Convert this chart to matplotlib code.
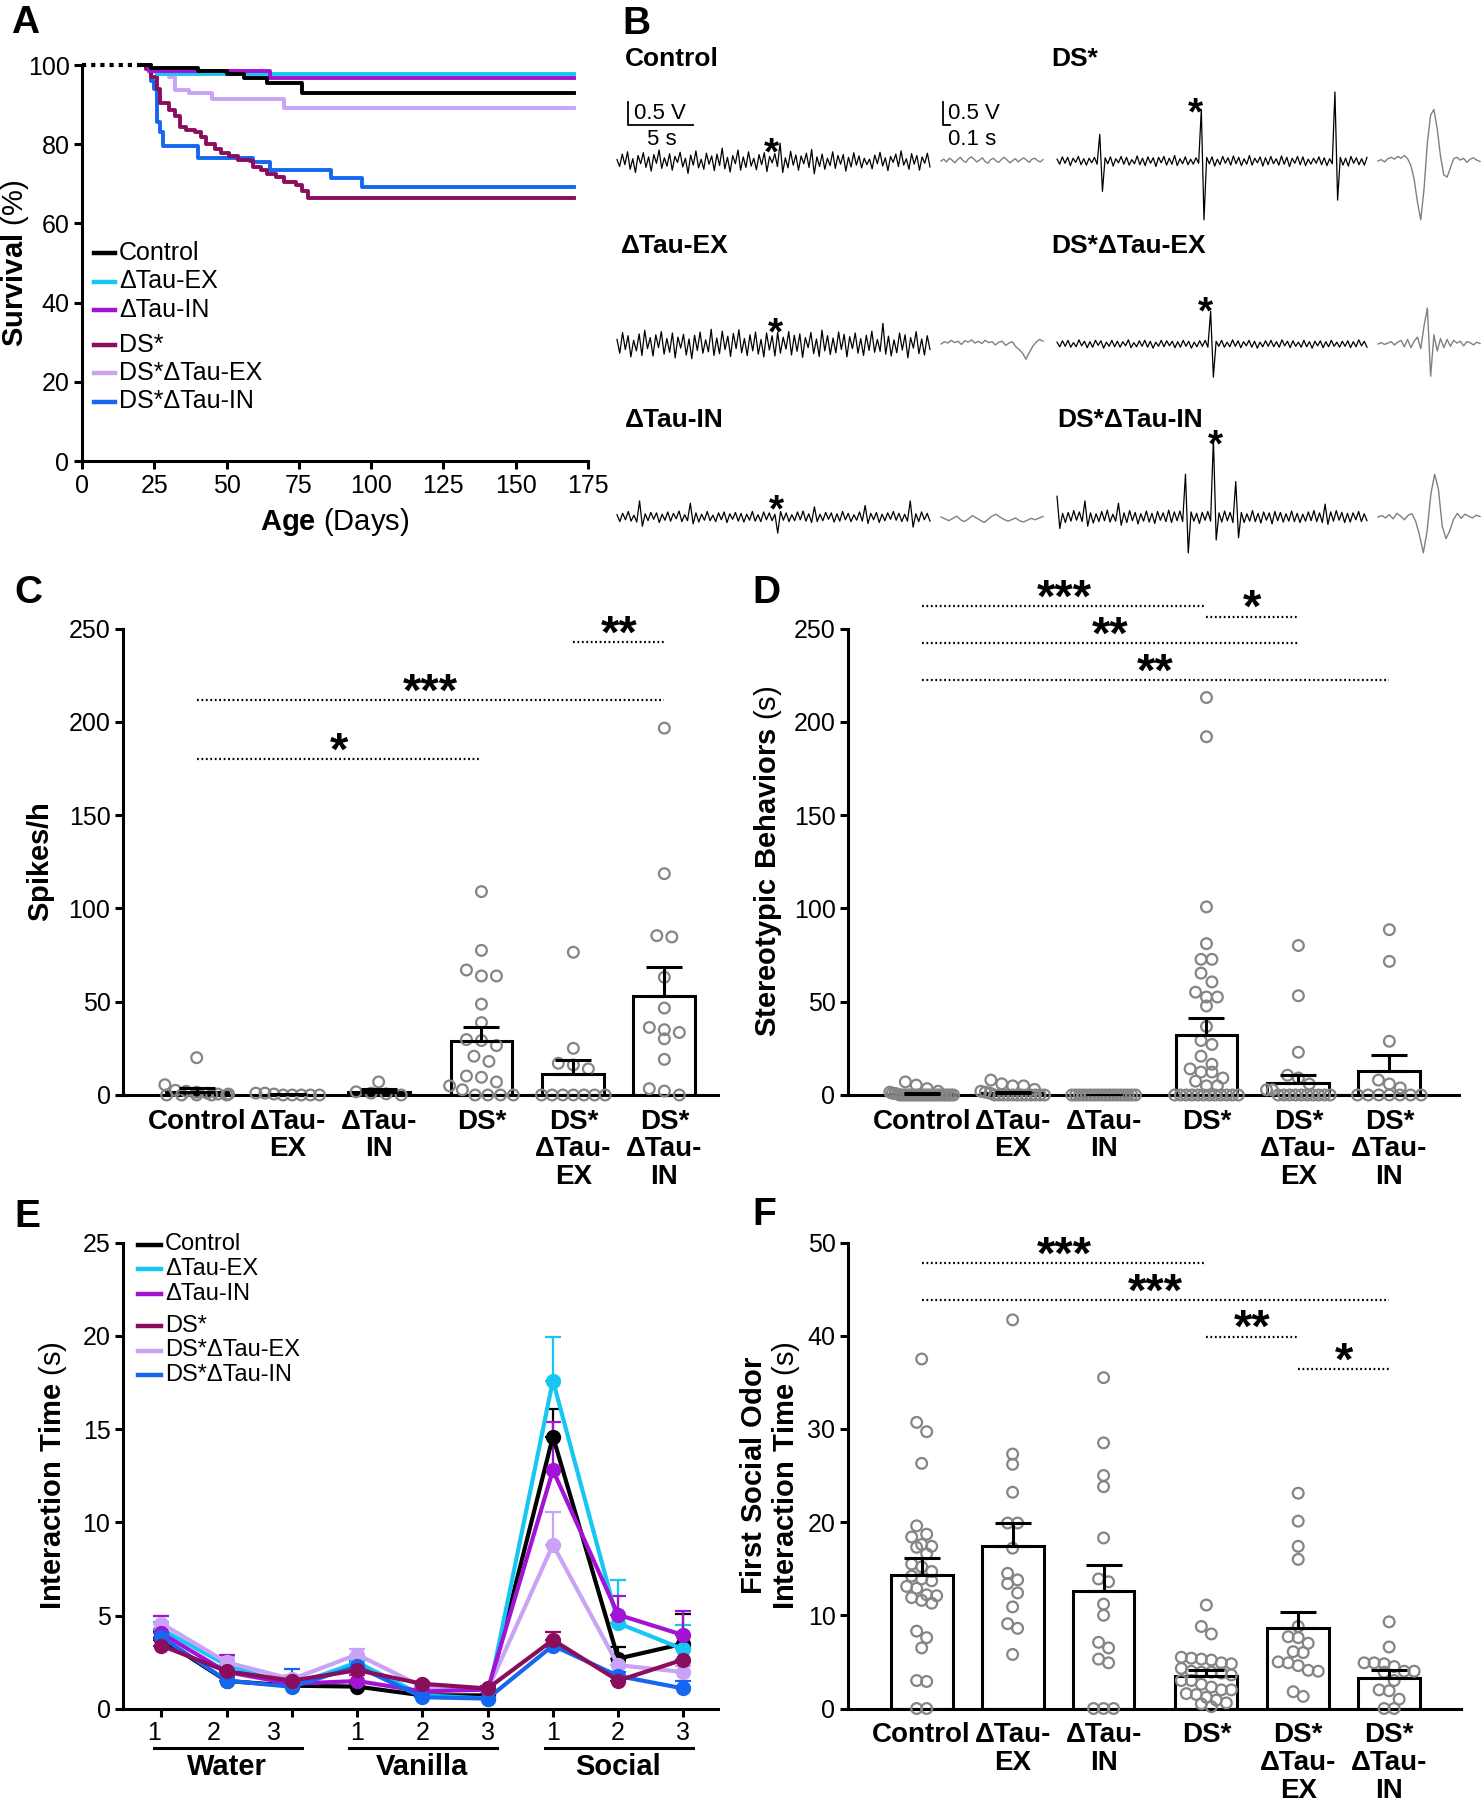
import matplotlib
matplotlib.use('Agg')
import matplotlib.pyplot as plt
from matplotlib import font_manager
from matplotlib.lines import Line2D
from matplotlib.transforms import ScaledTranslation
import numpy as np

W, H = 1484, 1800

groups = ['Control', 'ΔTau-EX', 'ΔTau-IN', 'DS*', 'DS*ΔTau-EX', 'DS*ΔTau-IN']
colors = ['#000000', '#18C6F4', '#A313D4', '#8B0D5D', '#C9A3F6', '#1467EE']
cat_labels = ['Control', 'ΔTau-\nEX', 'ΔTau-\nIN', 'DS*', 'DS*\nΔTau-\nEX', 'DS*\nΔTau-\nIN']
bar_pos = [0, 1, 2, 3.13, 4.14, 5.14]

# ---- A: survival steps (day, % alive) ----
wean_day = 21
surv_end = 170
days_ctrl = [21, 24, 40, 50, 56, 64, 76]
pct_ctrl = [100, 99.3, 98.6, 97.8, 96.7, 95.4, 93.0]
days_tex = [21, 23, 26]
pct_tex = [100, 98.8, 97.8]
days_tin = [21, 23, 65]
pct_tin = [100, 98.6, 96.7]
days_ds = [21, 22, 24, 26, 27, 30, 32, 34, 36, 39, 41, 43, 46, 48, 51, 54, 58, 59, 62, 64, 67, 70, 74, 76, 78]
pct_ds = [100, 98.9, 97.0, 93.9, 90.4, 88.7, 87.0, 84.3, 83.7, 83.0, 81.7, 80.0, 78.7, 77.8, 77.0,
          76.0, 75.7, 74.3, 73.5, 72.6, 71.7, 70.4, 69.6, 68.3, 66.5]
days_dtex = [21, 23, 30, 32, 37, 45, 70]
pct_dtex = [100, 98.3, 97.0, 93.7, 92.9, 91.3, 89.1]
days_dtin = [21, 24, 25, 26, 27, 28, 40, 59, 65, 86, 97]
pct_dtin = [100, 96.0, 93.9, 85.7, 83.0, 79.6, 76.5, 75.4, 73.5, 71.5, 69.1]

# ---- B: EEG traces (hundredths of a volt) ----
tr_ctrl = [3, -12, 15, -8, 20, -18, 5, -25, 12, -6, 18, -14, 9, -22, 14, -5, 24, -16, 7, -11, 16, -20, 10, -3,
           19, -13, 6, -27, 13, -9, 22, -15, 4, -18, 17, -7, 11, -21, 15, -10, 28, -17, 8, -24, 12, -6, 24, -20,
           9, -14, 20, -11, 6, -19, 14, -8, 18, -23, 10, -4, 16, -12, 39, -25, 7, -15, 21, -9, 13, -20, 11, -6,
           17, -14, 25, -28, 9, -12, 15, -18, 6, -10, 20, -16, 12, -7, 14, -22, 8, -13, 18, -9, 11, -15, 6, -8,
           4, -17, 13, -6, 19, -11, 7, -21, 10, -3, 15, -12, 22, -9, 5, -18, 16, -7, 12, -20, 9, -5, 17, -13]
tr_ds = [4, -7, 9, -5, 8, -10, 6, -3, 10, -8, 5, -9, 6, -4, 8, -7, 58, -66, 7, -6, 9, -11, 5, -4, 10, -7, 8, -9,
         3, -6, 11, -8, 6, -10, 9, -5, 7, -12, 8, -4, 10, -9, 6, -7, 12, -10, 5, -6, 9, -8, 4, -7, 7, -5,
         112, -128, 8, -6, 9, -11, 4, -8, 10, -5, 7, -9, 11, -6, 8, -10, 5, -7, 12, -9, 6, -4, 9, -11, 7, -8,
         10, -6, 5, -9, 11, -7, 8, -12, 6, -5, 10, -8, 9, -10, 4, -7, 6, -5, 9, -8, 7, -10, 5, -6,
         150, -85, 8, -9, 6, -11, 10, -5, 7, -8, 5, -9, 8]
tr_tex = [10, -20, 25, -12, 18, -28, 8, -15, 22, -25, 30, -10, 14, -26, 20, -8, 27, -22, 12, -18, 24, -30, 15,
          -9, 21, -24, 11, -32, 19, -14, 26, -20, 9, -17, 32, -25, 13, -21, 28, -12, 17, -27, 23, -10, 31, -19,
          12, -25, 20, -15, 26, -22, 10, -28, 24, -13, 18, -26, 25, -20, 15, -11, 27, -24, 19, -16, 22, -29, 14,
          -8, 25, -21, 11, -27, 30, -15, 18, -23, 13, -19, 26, -12, 21, -28, 16, -10, 24, -20, 12, -25, 19, -14,
          28, -18, 10, -16, 45, -22, 17, -26, 9, -19, 24, -13, 20, -30, 14, -9, 27, -21, 11, -24, 18, -12]
tr_tin = [5, -10, 8, -6, 12, -9, 4, -11, 35, -20, 7, -8, 10, -5, 9, -12, 6, -7, 11, -9, 8, -4, 13, -10, 5, -8,
          30, -15, 9, -11, 6, -7, 12, -8, 4, -10, 9, -6, 11, -12, 7, -5, 10, -9, 8, -11, 6, -7, 12, -9, 5, -10,
          11, -6, 9, -8, 6, -35, 12, -7, 9, -10, 5, -8, 11, -6, 13, -9, 7, -12, 22, -10, 6, -8, 10, -5, 9, -11,
          7, -9, 12, -6, 8, -10, 5, -7, 11, -9, 25, -14, 8, -6, 10, -12, 6, -8, 9, -5, 12, -7, 8, -10, 6, -9,
          35, -22, 7, -10, 11, -6, 8, -9]
tr_dtex = [4, -6, 7, -5, 8, -7, 3, -6, 9, -4, 6, -8, 5, -7, 8, -3, 7, -9, 4, -5, 8, -6, 6, -7, 5, -4, 9, -8, 3,
           -6, 7, -5, 8, -7, 6, -9, 4, -5, 8, -6, 7, -4, 6, -8, 5, -7, 8, -5, 6, -9, 4, -6, 7, -5, 8, -7, 71,
           -72, 6, -5, 8, -7, 4, -6, 9, -5, 7, -8, 5, -4, 8, -7, 6, -9, 4, -6, 7, -5, 8, -6, 5, -7, 9, -4, 6,
           -8, 7, -5, 4, -7, 8, -6, 5, -9, 6, -4, 7, -8, 5, -6, 8, -5, 4, -7, 6, -5, 7, -8, 5, -6, 9, -4, 6, -7]
tr_dtin = [45, -25, 8, -12, 10, -9, 14, -7, 11, -10, 35, -20, 9, -13, 7, -10, 12, -8, 15, -11, 6, -9, 30, -18,
           9, -12, 14, -8, 10, -15, 7, -9, 13, -11, 8, -14, 12, -7, 9, -10, 15, -12, 11, -8, 13, -10, 93, -78,
           11, -9, 8, -14, 10, -7, 12, -9, 170, -50, 9, -11, 13, -8, 10, -12, 77, -45, 10, -12, 7, -9, 14, -10,
           8, -13, 11, -7, 9, -15, 12, -8, 10, -11, 7, -9, 13, -10, 8, -12, 6, -9, 11, -8, 14, -10, 9, -12,
           28, -16, 11, -9, 14, -7, 10, -12, 8, -11, 9, -6, 12, -10, 7, -8]
in_ctrl = [0, 4, -2, 6, 2, -4, 3, 8, 1, -3, 5, 9, 4, -2, 2, 7, -1, -5, 3, 6, 0, -3, 4, 8, 2, -4, 1, 5, -2, 3, 7,
           2, -3, 4, 6, 1, -2, 3]
in_ds = [0, 3, -2, 5, 8, 4, 10, 6, 12, 5, -10, -40, -90, -128, -60, 40, 100, 112, 70, 10, -30, -35, -15, 5, 8,
         2, 6, -3, 4, 7, 2, -1]
in_tex = [0, 5, 2, 8, 3, 6, -1, 7, 4, 9, 2, 6, 1, 8, 3, 5, -2, 4, 6, -3, 2, 5, -6, -12, -20, -33, -18, -5, 4,
          10, 6]
in_dtex = [0, 3, -1, 2, 5, -2, 4, 8, -6, 10, -8, 6, 15, -10, 40, 78, -70, 20, -15, 12, -8, 10, -5, 8, 2, 6, -4,
           5, 3, -2, 4, 1]
in_tin = [0, -4, -8, -3, 2, -6, -10, -4, 3, -2, -7, -12, -5, 2, 6, 0, -5, -9, -6, -2, -8, -11, -7, -3, -6, -2, 1]
in_dtin = [0, 3, -2, 5, -4, 8, 2, -6, 4, 7, -10, -40, -78, -30, 50, 93, 60, -20, -47, -30, -5, 8, -3, 6, 2, -2,
           4, 1]

# ---- C: spikes/h ----
c_ctrl = [20, 5.5, 2.5, 2, 1.5, 1, 0.5, 0.5, 0, 0, 0, 0, 0]
c_tex = [1, 0.5, 0, 1, 0, 0, 0, 0]
c_tin = [0.6, 1.7, 7, 0, 1]
c_ds = [109, 77.5, 67, 63.8, 63.8, 48.7, 38.8, 29.7, 29.2, 26.5, 20.8, 18, 10.2, 9.5, 7, 4.9, 2.8, 0, 0, 0, 0]
c_dtex = [76.5, 25, 17, 16.1, 14, 0, 0, 0, 0, 0, 0, 0]
c_dtin = [196.6, 118.6, 85.4, 84.7, 63.1, 46.6, 36.2, 35, 33.5, 30.1, 19.1, 3.4, 2.1, 0]
c_mean = [1.7, 0.2, 1.5, 28.8, 11.2, 53.0]
c_sem = [2.1, 0.2, 1.7, 7.9, 7.4, 15.4]

# ---- D: stereotypic behaviours (s) ----
d_ctrl = [7, 5.3, 3.4, 2, 1.5, 1, 0.8, 0.5, 0, 0, 0, 0, 0, 0, 0, 0, 0, 0, 0, 0, 0, 0, 0, 0, 0, 0, 0, 0, 0, 0]
d_tex = [8, 6, 4.9, 4.9, 3, 2, 1.5, 1, 0, 0, 0, 0, 0, 0, 0, 0, 0, 0, 0, 0]
d_tin = [0, 0, 0, 0, 0, 0, 0, 0, 0, 0, 0, 0, 0, 0, 0, 0, 0, 0]
d_ds = [213, 192, 100.8, 81.1, 72.7, 72.7, 65.3, 60.6, 55.1, 52.5, 52.5, 47.7, 36.7, 29.2, 27.1, 20.8, 16.5,
        14, 12.3, 12.3, 9.1, 7.4, 4.9, 4.9, 0, 0, 0, 0, 0, 0, 0, 0, 0, 0, 0, 0]
d_dtex = [80.1, 53.2, 22.9, 10.6, 9.1, 5.9, 2.8, 2.8, 0, 0, 0, 0, 0, 0, 0, 0, 0, 0]
d_dtin = [88.6, 71.6, 28.8, 8, 5.9, 3.8, 0, 0, 0, 0, 0, 0, 0]
d_mean = [0.7, 1.3, 0, 32.4, 6.4, 12.7]
d_sem = [0.3, 0.5, 0, 9.1, 4.2, 8.5]

# ---- E: interaction time per trial ----
trials = ['1', '2', '3', '1', '2', '3', '1', '2', '3']
odors = ['Water', 'Vanilla', 'Social']
e_ctrl = [3.75, 1.5, 1.25, 1.2, 0.73, 0.73, 14.6, 2.7, 3.5]
e_tex = [4.27, 2.35, 1.25, 2.5, 0.73, 0.56, 17.6, 4.6, 3.2]
e_tin = [4.06, 1.98, 1.35, 1.5, 0.94, 1.04, 12.8, 5.05, 3.96]
e_ds = [3.4, 2.02, 1.52, 2.08, 1.35, 1.1, 3.7, 1.52, 2.65]
e_dtex = [4.58, 2.5, 1.6, 2.92, 1.19, 1.04, 8.8, 2.35, 1.98]
e_dtin = [3.85, 1.52, 1.19, 2.29, 0.63, 0.56, 3.4, 1.77, 1.1]
es_ctrl = [0.4, 0.3, 0.2, 0.2, 0.1, 0.1, 1.5, 0.6, 1.6]
es_tex = [0.4, 0.3, 0.2, 0.3, 0.1, 0.1, 2.35, 2.3, 1.3]
es_tin = [0.9, 0.9, 0.3, 0.3, 0.2, 0.2, 2.6, 1.0, 1.3]
es_ds = [0.3, 0.2, 0.2, 0.3, 0.1, 0.1, 0.4, 0.2, 0.7]
es_dtex = [0.4, 0.3, 0.2, 0.3, 0.1, 0.1, 1.75, 0.3, 0.3]
es_dtin = [0.4, 0.2, 0.95, 0.3, 0.1, 0.1, 0.3, 0.2, 0.4]

# ---- F: first social odor interaction time (s) ----
f_ctrl = [37.5, 30.7, 29.7, 26.3, 19.6, 18.7, 18.4, 17.6, 17.4, 17.3, 16.6, 15.5, 15.2, 14.7, 14.2, 13.9, 13.7,
          13.1, 12.9, 12.2, 12.1, 11.9, 11.6, 11.3, 8.3, 7.6, 6.5, 3.0, 2.9, 0, 0]
f_tex = [41.7, 27.3, 26.2, 23.2, 19.9, 19.9, 17.2, 14.5, 13.8, 13.4, 12.4, 10.9, 9.1, 8.6, 5.8]
f_tin = [35.5, 28.5, 25, 23.8, 18.3, 13.9, 13.6, 11.2, 10, 7.1, 6.5, 5.3, 4.9, 0, 0, 0]
f_ds = [11.1, 8.8, 8.0, 5.5, 5.4, 5.3, 5.2, 4.9, 4.8, 4.3, 4.0, 3.9, 3.9, 3.8, 3.6, 3.0, 3.0, 2.6, 2.3, 2.0,
        2.0, 1.6, 1.5, 1.2, 0.9, 0.6, 0.5, 0.2]
f_dtex = [23.1, 20.1, 17.4, 16.0, 8.8, 7.7, 7.6, 7.0, 6.1, 6.0, 5.0, 4.9, 4.6, 4.1, 4.0, 1.8, 1.3]
f_dtin = [9.3, 6.6, 4.9, 4.9, 4.8, 4.5, 4.0, 4.0, 3.9, 3.0, 2.0, 1.9, 1.0, 0, 0]
f_mean = [14.3, 17.4, 12.6, 3.5, 8.6, 3.3]
f_sem = [1.8, 2.5, 2.8, 0.6, 1.8, 0.8]

# significance brackets: (group a, group b, height, stars)
c_sig = [(0, 3, 180, '*'), (0, 5, 211.5, '***'), (4, 5, 242.6, '**')]
d_sig = [(0, 3, 261.9, '***'), (3, 4, 256.4, '*'), (0, 4, 242.2, '**'), (0, 5, 222.5, '**')]
f_sig = [(0, 3, 47.8, '***'), (0, 5, 43.8, '***'), (3, 4, 39.9, '**'), (4, 5, 36.4, '*')]


names = {f.name for f in font_manager.fontManager.ttflist}
if 'Liberation Sans Narrow' in names:
    cat_family, cat_size = ['Liberation Sans Narrow', 'Liberation Sans'], 23
else:
    cat_family, cat_size = ['Liberation Sans', 'DejaVu Sans'], 20

plt.rcParams['font.family'] = ['Liberation Sans', 'DejaVu Sans']
plt.rcParams['mathtext.fontset'] = 'custom'
plt.rcParams['mathtext.rm'] = 'Liberation Sans'
plt.rcParams['mathtext.bf'] = 'Liberation Sans:bold'

fig = plt.figure(figsize=(W / 100, H / 100), dpi=100)


def px_axes(l, t, r, b):
    return fig.add_axes([l / W, 1 - b / H, (r - l) / W, (b - t) / H])


def style_axes(ax):
    for s in ['top', 'right']:
        ax.spines[s].set_visible(False)
    for s in ['left', 'bottom']:
        ax.spines[s].set_linewidth(2.2)
    ax.tick_params(direction='out', length=6, width=2.2, labelsize=18, pad=3)


def fig_text(x, y, s, **kw):
    fig.text(x / W, 1 - y / H, s, **kw)


def legend_keys(x0, x1, xt, y0, step, gap, fs):
    for i, (g, c) in enumerate(zip(groups, colors)):
        y = y0 + i * step + (gap if i >= 3 else 0)
        fig.add_artist(Line2D([x0 / W, x1 / W], [1 - y / H, 1 - y / H], color=c, lw=3.2,
                              transform=fig.transFigure))
        fig_text(xt, y, g, fontsize=fs, ha='left', va='center')


def swarm(vals, center, bin_w, step, max_w):
    vals = np.asarray(vals, dtype=float)
    order = np.argsort(-vals, kind='stable')
    xs = np.full(len(vals), float(center))
    groups_ = []
    cur = []
    for i in order:
        if cur and vals[cur[0]] - vals[i] > bin_w:
            groups_.append(cur)
            cur = []
        cur.append(i)
    if cur:
        groups_.append(cur)
    for g in groups_:
        n = len(g)
        if n == 1:
            continue
        sp = min(step, max_w / (n - 1))
        offs = (np.arange(n) - (n - 1) / 2) * sp
        for k, i in enumerate(g):
            xs[i] = center + offs[k]
    return xs


def bar_panel(ax, dots, means, sems, sig, ymax, ystep, bin_w, step, ylabel, xmax):
    style_axes(ax)
    ax.bar(bar_pos, means, width=0.68, color='white', edgecolor='black', linewidth=2.2, zorder=2)
    for p, v in zip(bar_pos, dots):
        xs = swarm(v, p, bin_w, step, 0.7)
        ax.scatter(xs, v, s=60, facecolors='none', edgecolors='#858585', linewidths=1.6,
                   zorder=3, clip_on=False)
    ax.errorbar(bar_pos, means, yerr=[np.zeros(len(means)), sems], fmt='none', ecolor='black',
                elinewidth=2.2, capsize=13, capthick=2.2, zorder=4)
    for a, b, y, s in sig:
        ax.plot([bar_pos[a], bar_pos[b]], [y, y], color='black', lw=1.6, ls=(0, (0.8, 1.2)),
                clip_on=False)
        ax.annotate(s, xy=((bar_pos[a] + bar_pos[b]) / 2, y), xytext=(0, -4),
                    textcoords='offset points', ha='center', va='baseline', fontsize=34,
                    fontweight='bold', annotation_clip=False)
    ax.set_xlim(-0.81, xmax)
    ax.set_ylim(0, ymax)
    ax.set_yticks(np.arange(0, ymax + 1, ystep))
    ax.set_xticks(bar_pos)
    ax.set_xticklabels(cat_labels, fontfamily=cat_family, fontweight='bold', fontsize=cat_size,
                       linespacing=1.08, va='top')
    ax.tick_params(axis='x', length=0, pad=10)
    ax.set_ylabel(ylabel, fontsize=21, va='center')


# ================= A =================
axA = px_axes(82, 65, 588, 461)
style_axes(axA)
axA.plot([0, wean_day], [100, 100], color='black', lw=3, ls=(0, (1, 1.2)), clip_on=False)
surv_days = [days_ctrl, days_tex, days_tin, days_ds, days_dtex, days_dtin]
surv_pct = [pct_ctrl, pct_tex, pct_tin, pct_ds, pct_dtex, pct_dtin]
for k in [4, 5, 3, 1, 2, 0]:
    d, p = surv_days[k], surv_pct[k]
    axA.step(d + [surv_end], p + [p[-1]], where='post', color=colors[k], lw=2.8, clip_on=False)
axA.set_xlim(0, 175)
axA.set_ylim(0, 100)
axA.set_xticks(np.arange(0, 176, 25))
axA.set_yticks(np.arange(0, 101, 20))
axA.set_xlabel(r'$\mathbf{Age}$ (Days)', fontsize=21, va='center')
axA.xaxis.set_label_coords(0.5, -0.155)
axA.set_ylabel(r'$\mathbf{Survival}$ (%)', fontsize=21, va='center')
axA.yaxis.set_label_coords(-0.132, 0.5)
legend_keys(94, 115, 119, 253, 28.5, 6, 18)

# ================= B =================
row_y = [161, 344, 517]
cols = [((617, 930), (941, 1043)), ((1057, 1367), (1378, 1480))]
trace_len, inset_len = 24.0, 1.4
volt_half = 1.3
b_traces = [[tr_ctrl, tr_tex, tr_tin], [tr_ds, tr_dtex, tr_dtin]]
b_insets = [[in_ctrl, in_tex, in_tin], [in_ds, in_dtex, in_dtin]]
b_labels = [['Control', 'ΔTau-EX', 'ΔTau-IN'], ['DS*', 'DS*ΔTau-EX', 'DS*ΔTau-IN']]
b_label_y = [59, 246, 420]
b_label_x = [[625, 621, 625], [1051, 1051, 1057]]
b_stars = [[(0.495, 0.35), (0.505, 0.41), (0.508, 0.33)], [(0.448, 1.22), (0.48, 0.87), (0.51, 1.74)]]

for c, ((tl, tr), (il, ir)) in enumerate(cols):
    for r, yc in enumerate(row_y):
        half = volt_half * 46
        axt = px_axes(tl, yc - half, tr, yc + half)
        axt.set_axis_off()
        v = np.array(b_traces[c][r]) / 100
        axt.plot(np.linspace(0, trace_len, len(v)), v, color='black', lw=0.9, clip_on=False)
        axt.set_xlim(0, trace_len)
        axt.set_ylim(-volt_half, volt_half)
        sf, sv = b_stars[c][r]
        axt.text(sf * trace_len, sv - 0.2, '*', fontsize=28, fontweight='bold', ha='center', va='center')

        axi = px_axes(il, yc - half, ir, yc + half)
        axi.set_axis_off()
        w = np.array(b_insets[c][r]) / 100
        axi.plot(np.linspace(0, inset_len, len(w)), w, color='#808080', lw=1.0, clip_on=False)
        axi.set_xlim(0, inset_len)
        axi.set_ylim(-volt_half, volt_half)

        fig_text(b_label_x[c][r], b_label_y[r], b_labels[c][r], fontsize=19, fontweight='bold',
                 ha='left', va='center')
        if c == 0 and r == 0:
            x0, y0 = 0.84, 0.78
            axt.plot([x0, x0, x0 + 5], [y0 + 0.5, y0, y0], color='black', lw=1.3, clip_on=False)
            axt.text(x0 + 0.45, y0 + 0.25, '0.5 V', fontsize=16, ha='left', va='center')
            axt.text(x0 + 2.6, y0 - 0.32, '5 s', fontsize=16, ha='center', va='center')
            xi = 0.03
            axi.plot([xi, xi, xi + 0.1], [y0 + 0.5, y0, y0], color='black', lw=1.3, clip_on=False)
            axi.text(xi + 0.06, y0 + 0.25, '0.5 V', fontsize=16, ha='left', va='center')
            axi.text(xi + 0.06, y0 - 0.32, '0.1 s', fontsize=16, ha='left', va='center')

# ================= C =================
axC = px_axes(123, 628.5, 718, 1095)
bar_panel(axC, [c_ctrl, c_tex, c_tin, c_ds, c_dtex, c_dtin], c_mean, c_sem, c_sig, 250, 50,
          5, 0.165, r'$\mathbf{Spikes/h}$', 5.73)
axC.yaxis.set_label_coords(-0.138, 0.5)

# ================= D =================
axD = px_axes(848, 628.5, 1458.5, 1095)
bar_panel(axD, [d_ctrl, d_tex, d_tin, d_ds, d_dtex, d_dtin], d_mean, d_sem, d_sig, 250, 50,
          5, 0.12, r'$\mathbf{Stereotypic\ Behaviors}$ (s)', 5.90)
axD.yaxis.set_label_coords(-0.131, 0.5)

# ================= E =================
axE = px_axes(123, 1242.5, 718, 1709)
style_axes(axE)
e_means = [e_ctrl, e_tex, e_tin, e_ds, e_dtex, e_dtin]
e_sems = [es_ctrl, es_tex, es_tin, es_ds, es_dtex, es_dtin]
xe = np.arange(len(trials))
for k in [0, 1, 4, 2, 5, 3]:
    m = np.array(e_means[k])
    axE.errorbar(xe, m, yerr=[np.zeros(len(m)), e_sems[k]], color=colors[k], lw=3, marker='o', ms=10,
                 elinewidth=1.6, capsize=6, capthick=1.6, clip_on=False)
axE.set_xlim(-0.59, 8.53)
axE.set_ylim(0, 25)
axE.set_yticks(np.arange(0, 26, 5))
axE.set_xticks(xe)
axE.set_xticklabels(trials)
axE.tick_params(axis='x', pad=3)
# the water-trial numbers sit a little left of their ticks in the original
for tick, dx in zip(axE.xaxis.get_major_ticks()[:3], [-7, -13, -18]):
    tick.label1.set_transform(tick.label1.get_transform() + ScaledTranslation(dx / 100, 0, fig.dpi_scale_trans))
axE.set_ylabel(r'$\mathbf{Interaction\ Time}$ (s)', fontsize=21, va='center')
axE.yaxis.set_label_coords(-0.118, 0.5)
for k, od in enumerate(odors):
    axE.plot([3 * k - 0.12, 3 * k + 2.15], [-0.084, -0.084], color='black', lw=2.2,
             transform=axE.get_xaxis_transform(), clip_on=False)
    axE.text(3 * k + 1.0, -0.125, od, fontsize=21, fontweight='bold', ha='center', va='center',
             transform=axE.get_xaxis_transform())
legend_keys(138, 161, 165, 1244.5, 24.5, 8, 17)

# ================= F =================
axF = px_axes(848, 1242.5, 1461, 1708.5)
bar_panel(axF, [f_ctrl, f_tex, f_tin, f_ds, f_dtex, f_dtin], f_mean, f_sem, f_sig, 50, 10,
          1.0, 0.11, r'$\mathbf{First\ Social\ Odor}$' + '\n' + r'$\mathbf{Interaction\ Time}$ (s)', 5.93)
axF.yaxis.label.set_linespacing(1.1)
axF.yaxis.set_label_coords(-0.126, 0.5)

# panel letters
for letter, x, y in [('A', 11, 10), ('B', 622, 11), ('C', 14, 580), ('D', 752, 580),
                     ('E', 14, 1204), ('F', 752, 1202)]:
    fig_text(x, y - 5, letter, fontsize=28, fontweight='bold', ha='left', va='top')

fig.savefig('out.png', dpi=100)
